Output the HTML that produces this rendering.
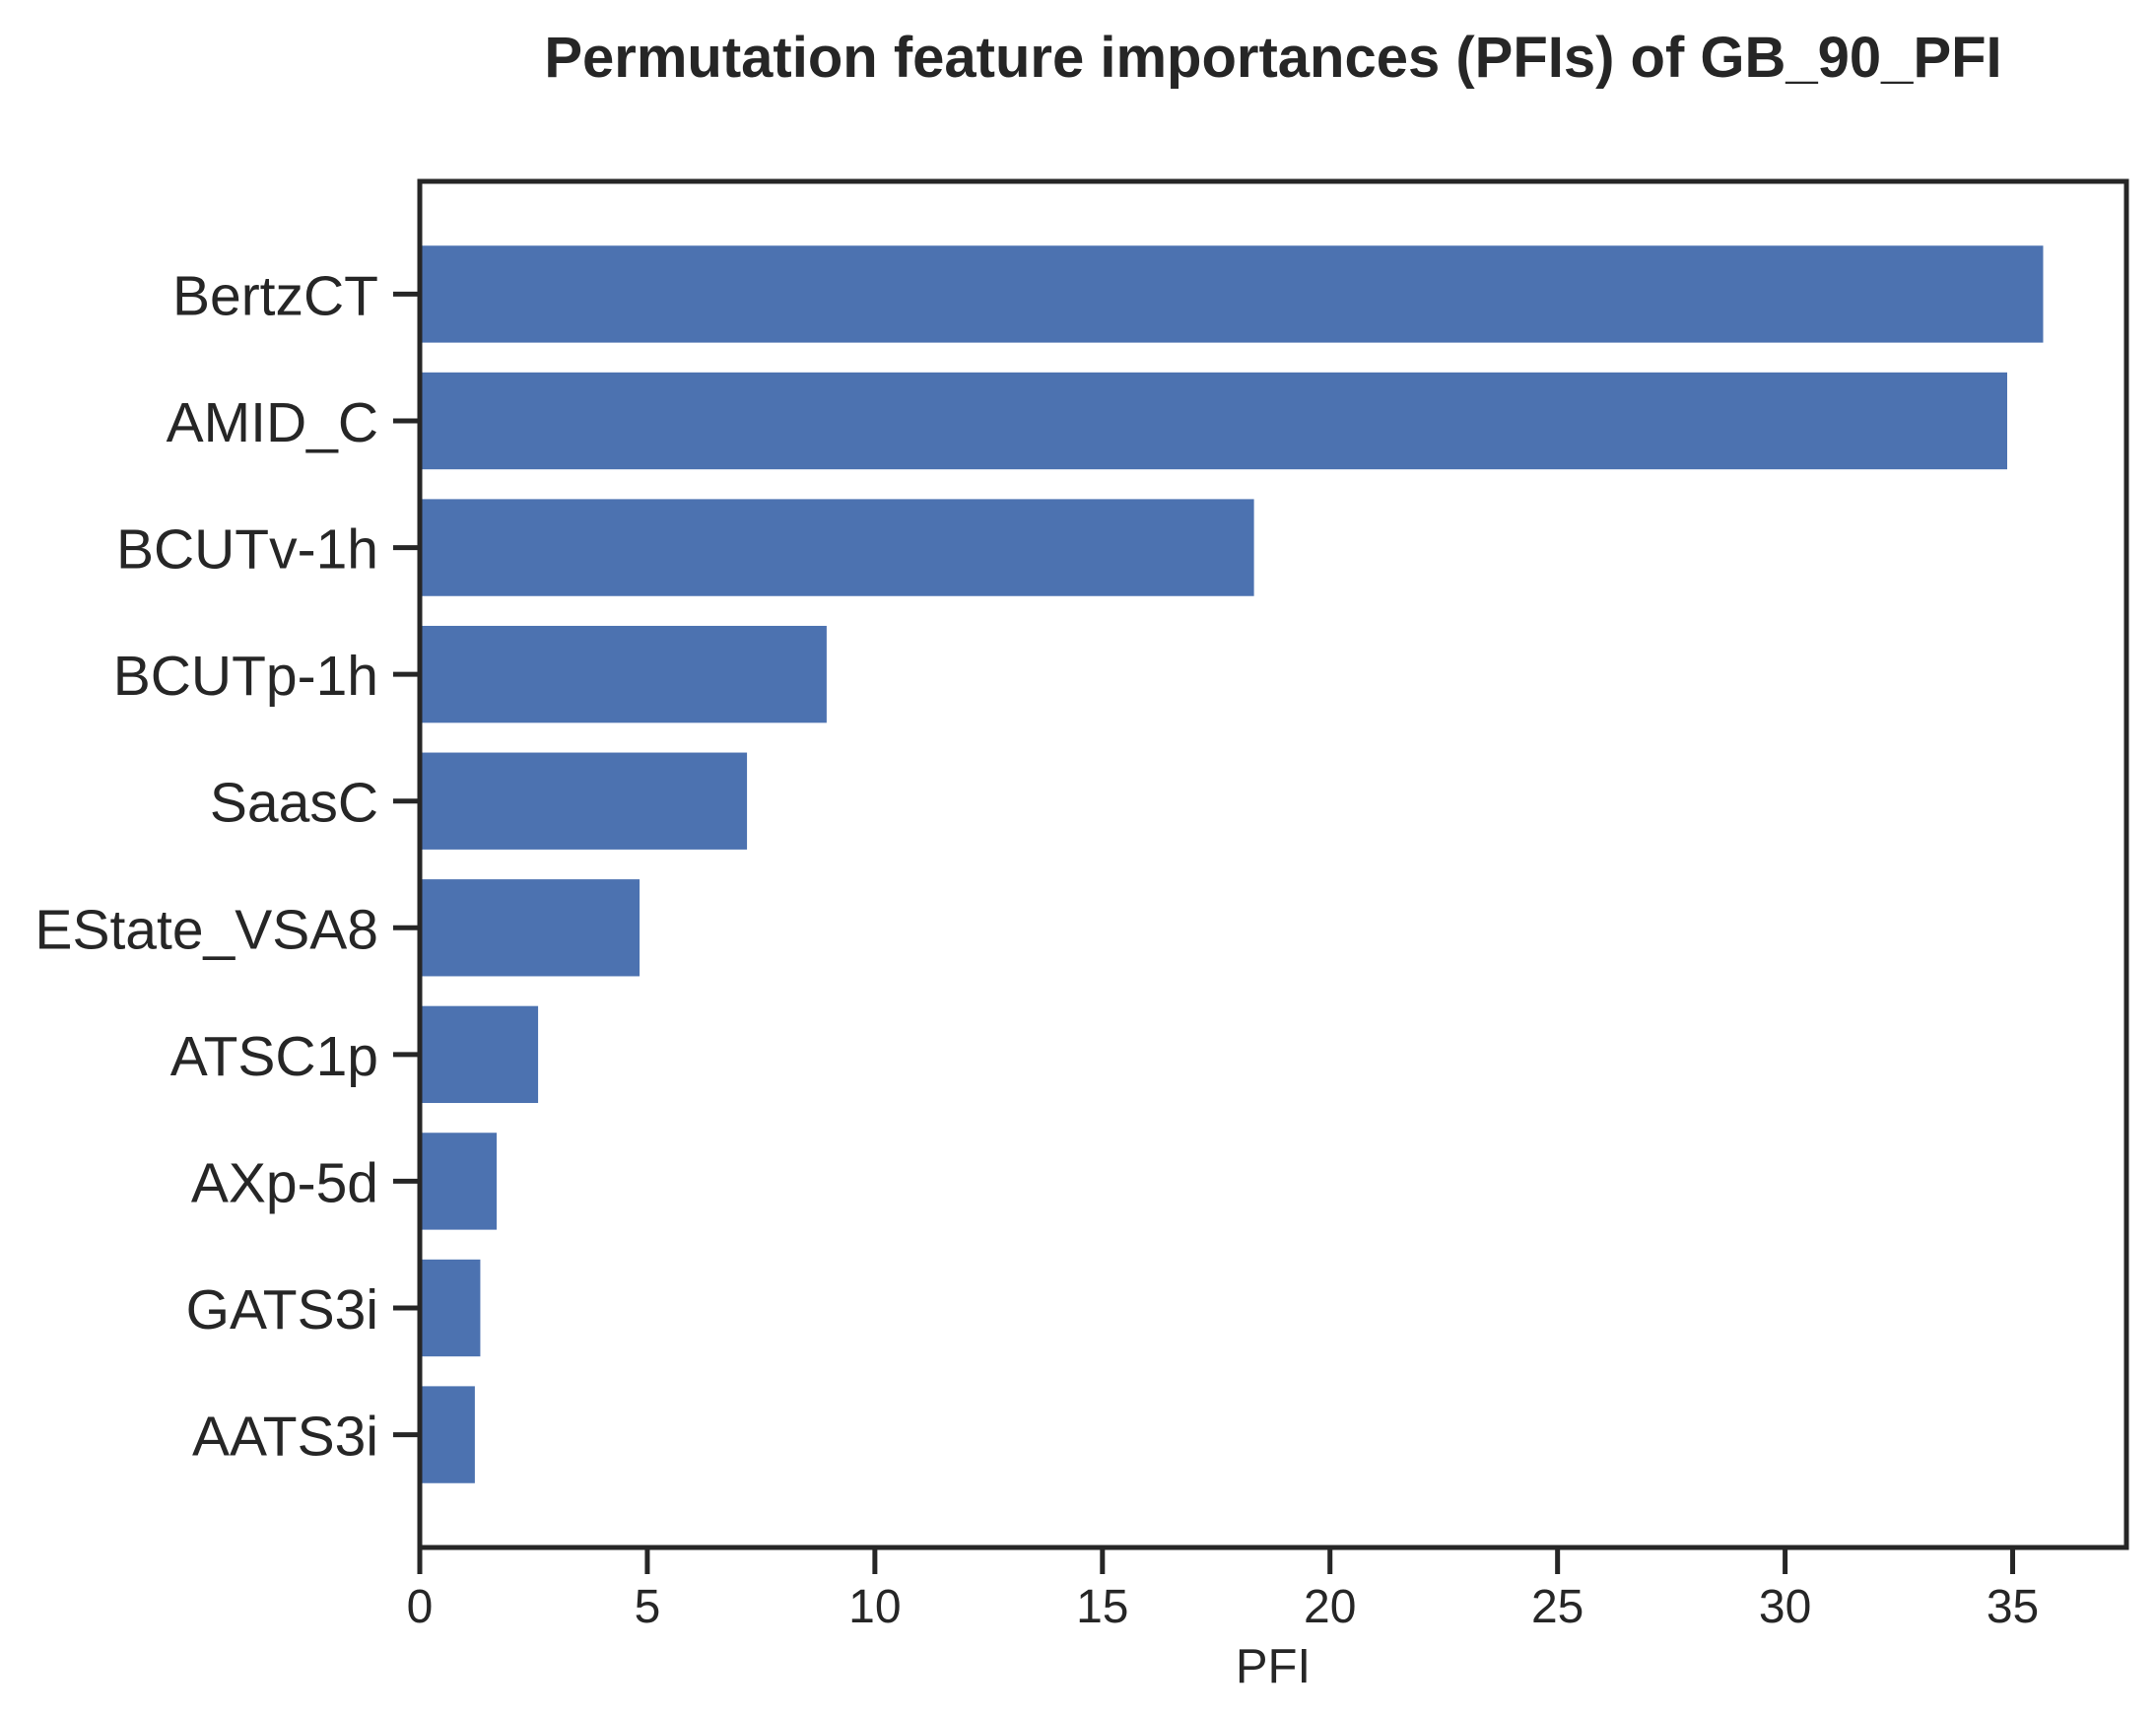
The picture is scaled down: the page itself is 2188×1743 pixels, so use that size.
<!DOCTYPE html>
<html><head><meta charset="utf-8"><style>
html,body{margin:0;padding:0;background:#fff}
svg{display:block;font-family:"Liberation Sans",Arial,sans-serif}
</style></head><body>
<svg id="chart" width="2188" height="1743" viewBox="0 0 2188 1743">
<text x="1292" y="78" text-anchor="middle" font-size="58" font-weight="bold" fill="#262626">Permutation feature importances (PFIs) of GB_90_PFI</text>
<g id="bars"></g>
<g id="yticks"></g>
<g id="xticks"></g>
<rect x="426" y="184" width="1732" height="1386" fill="none" stroke="#262626" stroke-width="5"/>
<text x="1292" y="1707" text-anchor="middle" font-size="49" fill="#262626">PFI</text>
</svg>
<script>
const categories = ["BertzCT","AMID_C","BCUTv-1h","BCUTp-1h","SaasC","EState_VSA8","ATSC1p","AXp-5d","GATS3i","AATS3i"];
const values = [35.67,34.88,18.33,8.94,7.19,4.83,2.60,1.69,1.33,1.21];
const xTicks = [0,5,10,15,20,25,30,35];
const xTickLabels = ["0","5","10","15","20","25","30","35"];

const NS = "http://www.w3.org/2000/svg";
const X0 = 426, X1 = 2158, XMAX = 37.5;
const Y0 = 184, Y1 = 1570, YMIN = -0.89, YMAX = 9.89;
function xs(v){ return X0 + (v/XMAX)*(X1-X0); }
function ys(i){ return Y0 + ((i - YMIN)/(YMAX-YMIN))*(Y1-Y0); }
const band = ys(1)-ys(0);
const barH = band*0.765;

const gb = document.getElementById('bars');
const gy = document.getElementById('yticks');
const gx = document.getElementById('xticks');

categories.forEach((c,i)=>{
  const r = document.createElementNS(NS,'rect');
  r.setAttribute('x', X0);
  r.setAttribute('y', ys(i)-barH/2);
  r.setAttribute('width', xs(values[i])-X0);
  r.setAttribute('height', barH);
  r.setAttribute('fill', '#4c72b0');
  
  
  gb.appendChild(r);

  const t = document.createElementNS(NS,'line');
  t.setAttribute('x1', X0-27); t.setAttribute('x2', X0);
  t.setAttribute('y1', ys(i)); t.setAttribute('y2', ys(i));
  t.setAttribute('stroke', '#262626'); t.setAttribute('stroke-width', '5');
  
  
  gy.appendChild(t);

  const l = document.createElementNS(NS,'text');
  l.setAttribute('x', X0-42);
  l.setAttribute('y', ys(i)+21);
  l.setAttribute('text-anchor', 'end');
  l.setAttribute('font-size', '57');
  l.setAttribute('fill', '#262626');
  l.textContent = c;
  
  
  gy.appendChild(l);
});

xTicks.forEach((v,k)=>{
  const t = document.createElementNS(NS,'line');
  t.setAttribute('x1', xs(v)); t.setAttribute('x2', xs(v));
  t.setAttribute('y1', Y1); t.setAttribute('y2', Y1+27);
  t.setAttribute('stroke', '#262626'); t.setAttribute('stroke-width', '5');
  
  
  gx.appendChild(t);

  const l = document.createElementNS(NS,'text');
  l.setAttribute('x', xs(v));
  l.setAttribute('y', Y1+76);
  l.setAttribute('text-anchor', 'middle');
  l.setAttribute('font-size', '48');
  l.setAttribute('fill', '#262626');
  l.textContent = xTickLabels[k];
  
  
  gx.appendChild(l);
});
</script>
</body></html>
